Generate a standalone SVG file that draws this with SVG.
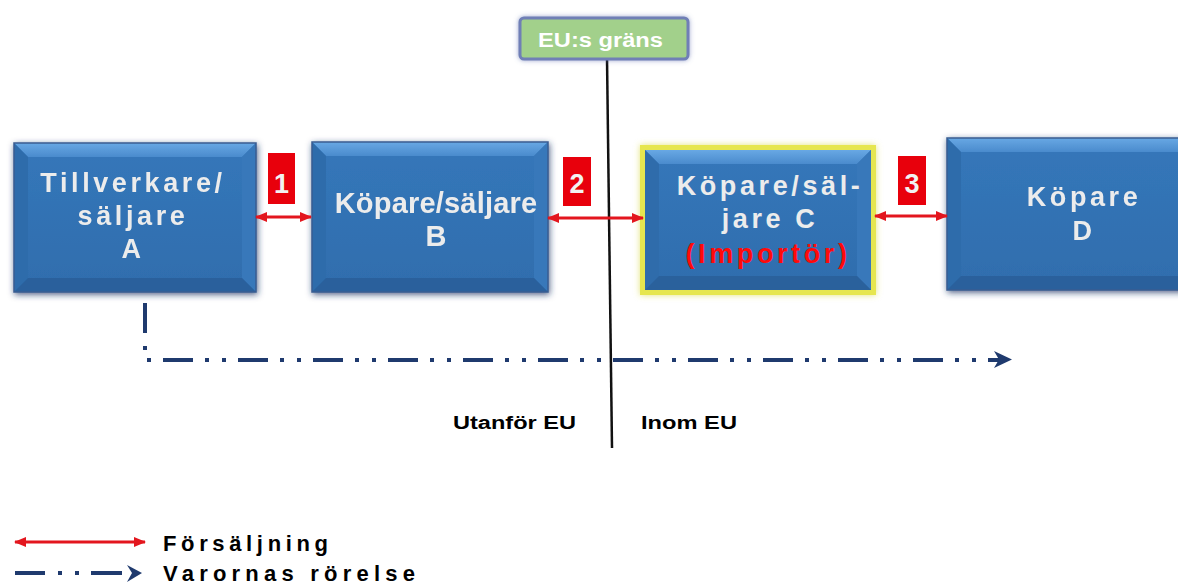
<svg xmlns="http://www.w3.org/2000/svg" width="1178" height="587" viewBox="0 0 1178 587">
  <style>
    .lbl { font-family: "Liberation Sans", Arial, sans-serif; font-weight: bold; }
    .boxtxt { font-family: "Liberation Sans", Arial, sans-serif; font-weight: bold; font-size: 27px; fill: #ececec; letter-spacing: 3.6px; text-anchor: middle; }
    .tight { font-size: 29px; letter-spacing: 0.2px; }
    .face { fill: url(#faceGrad); }
    .bevTop { fill: url(#bevTopGrad); }
    .bevLeft { fill: #2f6cab; }
    .bevRight { fill: #3878ba; }
    .bevBot { fill: #2a619c; }
    .edge { fill: none; stroke: #3a5d92; stroke-width: 1.5; }
    .badge { fill: #e8000c; }
    .badgeNum { font-family: "Liberation Sans", Arial, sans-serif; font-weight: bold; font-size: 27px; fill: #f2f2f2; text-anchor: middle; }
    .sale { stroke: #e3161e; stroke-width: 3; fill: none; }
    .flow { stroke: #1f3a6e; stroke-width: 4; fill: none; }
  </style>
  <defs>
    <linearGradient id="faceGrad" x1="0" y1="0" x2="0" y2="1">
      <stop offset="0" stop-color="#3577ba"/>
      <stop offset="1" stop-color="#2f6dad"/>
    </linearGradient>
    <linearGradient id="bevTopGrad" x1="0" y1="0" x2="0" y2="1">
      <stop offset="0" stop-color="#68a8e4"/>
      <stop offset="1" stop-color="#4a8bcd"/>
    </linearGradient>
    <filter id="shadow" x="-10%" y="-10%" width="120%" height="125%">
      <feGaussianBlur in="SourceAlpha" stdDeviation="3"/>
      <feOffset dx="1" dy="2" result="b"/>
      <feFlood flood-color="#1d3466" flood-opacity="0.75"/>
      <feComposite in2="b" operator="in"/>
      <feMerge><feMergeNode/><feMergeNode in="SourceGraphic"/></feMerge>
    </filter>
    <filter id="glowY" x="-10%" y="-10%" width="120%" height="125%">
      <feFlood flood-color="#d8d840" flood-opacity="0.7"/>
      <feComposite operator="in" in2="SourceAlpha"/>
      <feGaussianBlur stdDeviation="3"/>
      <feMerge><feMergeNode/><feMergeNode in="SourceGraphic"/></feMerge>
    </filter>
    <filter id="glowB" x="-10%" y="-20%" width="120%" height="140%">
      <feFlood flood-color="#5a6fb0" flood-opacity="0.6"/>
      <feComposite in2="SourceAlpha" operator="in"/>
      <feGaussianBlur stdDeviation="2.5"/>
      <feMerge><feMergeNode/><feMergeNode in="SourceGraphic"/></feMerge>
    </filter>
    <marker id="saleHead" viewBox="0 0 12 10" refX="11" refY="5" markerWidth="12" markerHeight="10" markerUnits="userSpaceOnUse" orient="auto-start-reverse">
      <path d="M0,0 L12,5 L0,10 Z" fill="#e3161e"/>
    </marker>
  </defs>

  <!-- EU border line -->
  <g id="eu-border">
    <line x1="607" y1="58" x2="612" y2="448" stroke="#111" stroke-width="2.5"/>
    <g filter="url(#glowB)">
      <rect x="520" y="18" width="168" height="41" rx="4" fill="#a2d08b" stroke="#6f7fb6" stroke-width="3"/>
    </g>
    <text class="lbl" x="538" y="47" font-size="20" fill="#ffffff" textLength="125" lengthAdjust="spacingAndGlyphs">EU:s gräns</text>
    <text class="lbl" x="453" y="429" font-size="18" fill="#000" textLength="123" lengthAdjust="spacingAndGlyphs">Utanför EU</text>
    <text class="lbl" x="641" y="429" font-size="18" fill="#000" textLength="96" lengthAdjust="spacingAndGlyphs">Inom EU</text>
  </g>

  <!-- Node A -->
  <g id="node-a" filter="url(#shadow)">
    <rect class="face" x="14" y="143" width="242" height="149"/>
    <path class="bevTop" d="M14,143 H256 L242,157 H28 Z"/>
    <path class="bevLeft" d="M14,143 L28,157 V278 L14,292 Z"/>
    <path class="bevRight" d="M256,143 L242,157 V278 L256,292 Z"/>
    <path class="bevBot" d="M14,292 H256 L242,278 H28 Z"/>
    <rect class="edge" x="14" y="143" width="242" height="149"/>
    <text class="boxtxt" x="133" y="192">Tillverkare/</text>
    <text class="boxtxt" x="133" y="225">säljare</text>
    <text class="boxtxt" x="133" y="258">A</text>
  </g>

  <!-- Node B -->
  <g id="node-b" filter="url(#shadow)">
    <rect class="face" x="312" y="142" width="236" height="150"/>
    <path class="bevTop" d="M312,142 H548 L534,156 H326 Z"/>
    <path class="bevLeft" d="M312,142 L326,156 V278 L312,292 Z"/>
    <path class="bevRight" d="M548,142 L534,156 V278 L548,292 Z"/>
    <path class="bevBot" d="M312,292 H548 L534,278 H326 Z"/>
    <rect class="edge" x="312" y="142" width="236" height="150"/>
    <text class="boxtxt tight" x="436" y="213">Köpare/säljare</text>
    <text class="boxtxt tight" x="436" y="246">B</text>
  </g>

  <!-- Node C (importer) -->
  <g id="node-c">
    <g filter="url(#glowY)">
      <rect x="640" y="145" width="236" height="150" fill="#e6e650"/>
    </g>
    <rect class="face" x="645" y="150" width="226" height="140"/>
    <path class="bevTop" d="M645,150 H871 L857,164 H659 Z"/>
    <path class="bevLeft" d="M645,150 L659,164 V276 L645,290 Z"/>
    <path class="bevRight" d="M871,150 L857,164 V276 L871,290 Z"/>
    <path class="bevBot" d="M645,290 H871 L857,276 H659 Z"/>
    <text class="boxtxt" x="770" y="195">Köpare/säl-</text>
    <text class="boxtxt" x="770" y="228">jare C</text>
    <text class="boxtxt" x="768" y="263" style="fill:#ff0a0a">(Importör)</text>
  </g>

  <!-- Node D -->
  <g id="node-d" filter="url(#shadow)">
    <rect class="face" x="947" y="138" width="260" height="152"/>
    <path class="bevTop" d="M947,138 H1207 L1193,152 H961 Z"/>
    <path class="bevLeft" d="M947,138 L961,152 V276 L947,290 Z"/>
    <path class="bevBot" d="M947,290 H1207 L1193,276 H961 Z"/>
    <rect class="edge" x="947" y="138" width="260" height="152"/>
    <text class="boxtxt" x="1084" y="206">Köpare</text>
    <text class="boxtxt" x="1084" y="240">D</text>
  </g>

  <!-- Sale badges -->
  <g id="badges">
    <rect class="badge" x="268" y="153" width="27" height="51"/>
    <text class="badgeNum" x="281.5" y="193">1</text>
    <rect class="badge" x="563" y="157" width="28" height="49"/>
    <text class="badgeNum" x="577" y="193">2</text>
    <rect class="badge" x="898" y="156" width="28" height="49"/>
    <text class="badgeNum" x="912" y="193">3</text>
  </g>

  <!-- Connectors -->
  <g id="connectors">
    <line class="sale" x1="256" y1="217" x2="311" y2="217" marker-start="url(#saleHead)" marker-end="url(#saleHead)"/>
    <line class="sale" x1="548" y1="218" x2="643" y2="218" marker-start="url(#saleHead)" marker-end="url(#saleHead)"/>
    <line class="sale" x1="875" y1="216" x2="947" y2="216" marker-start="url(#saleHead)" marker-end="url(#saleHead)"/>

    <!-- movement of goods -->
    <line class="flow" x1="145" y1="303" x2="145" y2="333"/>
    <line class="flow" x1="143" y1="348" x2="147" y2="348" stroke-width="3.5"/>
    <line class="flow" x1="146" y1="360" x2="1000" y2="360" stroke-dasharray="30 12 4 13 4 12" stroke-dashoffset="58"/>
    <path d="M994,351 L1012,359.5 L994,368 L999,359.5 Z" fill="#1f3a6e"/>
  </g>

  <!-- Legend -->
  <g id="legend">
    <line class="sale" x1="15" y1="542" x2="145" y2="542" marker-start="url(#saleHead)" marker-end="url(#saleHead)"/>
    <text class="lbl" x="163" y="551" font-size="22" fill="#000" textLength="165">Försäljning</text>
    <line class="flow" x1="15" y1="573" x2="122" y2="573" stroke-dasharray="30 13 4 13 4 12 60"/>
    <path d="M127,565 L142,573 L127,582 L132,573 Z" fill="#1f3a6e"/>
    <text class="lbl" x="163" y="581" font-size="22" fill="#000" textLength="252">Varornas rörelse</text>
  </g>
</svg>
